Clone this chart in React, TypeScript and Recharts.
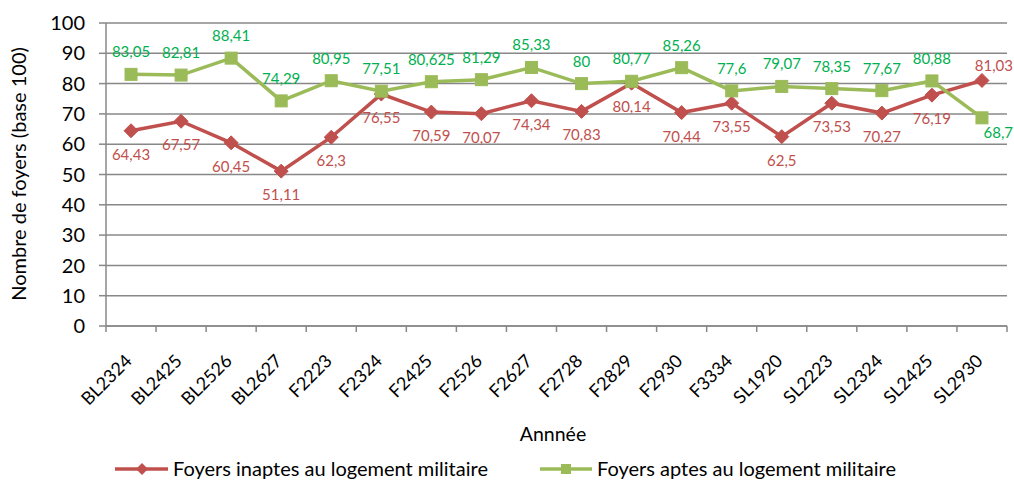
import { LineChart, Line, XAxis, YAxis, CartesianGrid, Legend, LabelList } from 'recharts';

const categories = [
  'BL2324', 'BL2425', 'BL2526', 'BL2627', 'F2223', 'F2324', 'F2425', 'F2526', 'F2627',
  'F2728', 'F2829', 'F2930', 'F3334', 'SL1920', 'SL2223', 'SL2324', 'SL2425', 'SL2930',
];
const inaptes = [
  64.43, 67.57, 60.45, 51.11, 62.3, 76.55, 70.59, 70.07, 74.34,
  70.83, 80.14, 70.44, 73.55, 62.5, 73.53, 70.27, 76.19, 81.03,
];
const aptes = [
  83.05, 82.81, 88.41, 74.29, 80.95, 77.51, 80.625, 81.29, 85.33,
  80, 80.77, 85.26, 77.6, 79.07, 78.35, 77.67, 80.88, 68.7,
];
const yTicks = [0, 10, 20, 30, 40, 50, 60, 70, 80, 90, 100];

const RED = '#c0504d';
const GREEN = '#9bbb59';
const RED_TXT = '#c0504d';
const GREEN_TXT = '#00b050';
const GRID = '#888888';
const FONT = 'Lato, sans-serif';
const LABEL_SIZE = 15;

const data = categories.map((annee, i) => ({ annee, inaptes: inaptes[i], aptes: aptes[i] }));

const W = 1014;
const H = 480;
const PLOT_LEFT = 106;
const PLOT_RIGHT = 1007;
const BAND = (PLOT_RIGHT - PLOT_LEFT) / categories.length;
const last = categories.length - 1;

const fmt = (v: number) => String(v).replace('.', ',');

function XTick(props: any) {
  const { x, y, payload, index } = props;
  const ax = x + 2;
  const ay = y + 28;
  return (
    <g>
      <line x1={x - BAND / 2} x2={x - BAND / 2} y1={y - 8} y2={y - 2} stroke={GRID} strokeWidth={1.5} />
      {index === last && (
        <line x1={x + BAND / 2} x2={x + BAND / 2} y1={y - 8} y2={y - 2} stroke={GRID} strokeWidth={1.5} />
      )}
      <text
        x={ax}
        y={ay}
        textAnchor="end"
        transform={`rotate(-45, ${ax}, ${ay})`}
        fontSize={18}
        fontFamily={FONT}
        fill="#000"
      >
        {payload.value}
      </text>
    </g>
  );
}

function RedLabel(props: any) {
  const { x, y, value, index } = props;
  if (index === last) {
    return (
      <text x={W - 1} y={y - 15} textAnchor="end" dominantBaseline="central" fontSize={LABEL_SIZE} fontFamily={FONT} fill={RED_TXT}>
        {fmt(value)}
      </text>
    );
  }
  return (
    <text x={x} y={y + 23} textAnchor="middle" dominantBaseline="central" fontSize={LABEL_SIZE} fontFamily={FONT} fill={RED_TXT}>
      {fmt(value)}
    </text>
  );
}

function GreenLabel(props: any) {
  const { x, y, value, index } = props;
  if (index === last) {
    return (
      <text x={W - 1} y={y + 14} textAnchor="end" dominantBaseline="central" fontSize={LABEL_SIZE} fontFamily={FONT} fill={GREEN_TXT}>
        {fmt(value)}
      </text>
    );
  }
  return (
    <text x={x} y={y - 23} textAnchor="middle" dominantBaseline="central" fontSize={LABEL_SIZE} fontFamily={FONT} fill={GREEN_TXT}>
      {fmt(value)}
    </text>
  );
}

function Diamond(props: any) {
  const { cx, cy } = props;
  if (cx == null || cy == null) return null;
  const r = 7;
  return <path d={`M${cx},${cy - r}L${cx + r},${cy}L${cx},${cy + r}L${cx - r},${cy}Z`} fill={RED} stroke={RED} />;
}

function Square(props: any) {
  const { cx, cy } = props;
  if (cx == null || cy == null) return null;
  const s = 6;
  return <rect x={cx - s} y={cy - s} width={s * 2} height={s * 2} fill={GREEN} stroke={GREEN} />;
}

function LegendBox() {
  return (
    <div style={{ position: 'relative', height: 30 }}>
      <svg width={W} height={30} style={{ position: 'absolute', left: 0, top: 0 }}>
        <line x1={115} x2={168} y1={19} y2={19} stroke={RED} strokeWidth={3.5} />
        <path d="M142,13L148,19L142,25L136,19Z" fill={RED} />
        <line x1={540} x2={592} y1={19} y2={19} stroke={GREEN} strokeWidth={3.5} />
        <rect x={561} y={14} width={10} height={10} fill={GREEN} />
        <text x={173} y={18} dominantBaseline="central" fontSize={20} fontFamily={FONT} fill="#000">
          Foyers inaptes au logement militaire
        </text>
        <text x={597} y={18} dominantBaseline="central" fontSize={20} fontFamily={FONT} fill="#000">
          Foyers aptes au logement militaire
        </text>
      </svg>
    </div>
  );
}

export default function App() {
  return (
    <div style={{ position: 'absolute', left: 0, top: 0, width: W, height: H, background: '#fff' }}>
      <LineChart width={W} height={H} data={data} margin={{ top: 23, right: W - PLOT_RIGHT, left: 0, bottom: 0 }}>
        <CartesianGrid vertical={false} stroke={GRID} strokeWidth={1.5} />
        <XAxis
          dataKey="annee"
          scale="band"
          height={124}
          interval={0}
          tick={<XTick />}
          tickLine={false}
          axisLine={{ stroke: GRID, strokeWidth: 1.5 }}
          label={(p: any) => (
            <text x={553} y={433} textAnchor="middle" dominantBaseline="central" fontSize={19.5} fontFamily={FONT} fill="#000">
              Annnée
            </text>
          )}
        />
        <YAxis
          width={PLOT_LEFT}
          domain={[0, 100]}
          ticks={yTicks}
          interval={0}
          tick={{ fontSize: 20, fontFamily: FONT, fill: '#000' }}
          tickSize={7}
          tickMargin={14}
          tickLine={{ stroke: GRID, strokeWidth: 1.5 }}
          axisLine={{ stroke: GRID, strokeWidth: 1.5 }}
          label={(p: any) => (
            <text
              x={18}
              y={174}
              textAnchor="middle"
              dominantBaseline="central"
              transform="rotate(-90, 18, 174)"
              fontSize={20}
              fontFamily={FONT}
              fill="#000"
            >
              Nombre de foyers (base 100)
            </text>
          )}
        />
        <Legend verticalAlign="bottom" height={30} content={() => <LegendBox />} />
        <Line
          dataKey="inaptes"
          name="Foyers inaptes au logement militaire"
          stroke={RED}
          strokeWidth={3.5}
          dot={<Diamond />}
          activeDot={false}
          isAnimationActive={false}
        >
          <LabelList dataKey="inaptes" content={<RedLabel />} />
        </Line>
        <Line
          dataKey="aptes"
          name="Foyers aptes au logement militaire"
          stroke={GREEN}
          strokeWidth={3.5}
          dot={<Square />}
          activeDot={false}
          isAnimationActive={false}
        >
          <LabelList dataKey="aptes" content={<GreenLabel />} />
        </Line>
      </LineChart>
    </div>
  );
}
